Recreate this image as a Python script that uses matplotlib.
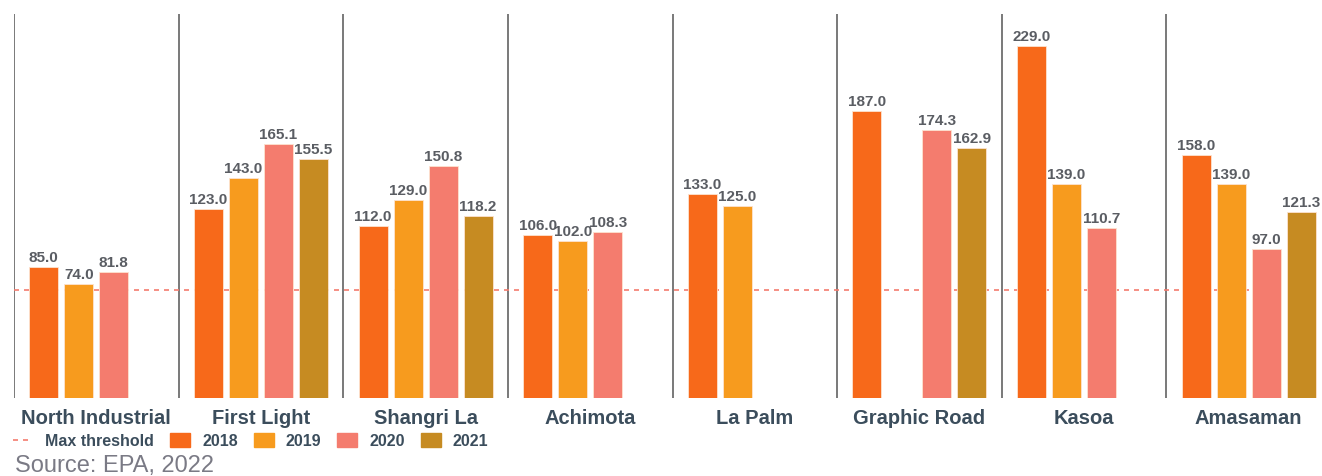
import matplotlib.pyplot as plt
import matplotlib.patches as mpatches
from matplotlib.lines import Line2D
import numpy as np

# PM10 annual averages by site and year
sites = ['North Industrial', 'First Light', 'Shangri La', 'Achimota',
         'La Palm', 'Graphic Road', 'Kasoa', 'Amasaman']
years = ['2018', '2019', '2020', '2021']
v2018 = [85.0, 123.0, 112.0, 106.0, 133.0, 187.0, 229.0, 158.0]
v2019 = [74.0, 143.0, 129.0, 102.0, 125.0, np.nan, 139.0, 139.0]
v2020 = [81.8, 165.1, 150.8, 108.3, np.nan, 174.3, 110.7, 97.0]
v2021 = [np.nan, 155.5, 118.2, np.nan, np.nan, 162.9, np.nan, 121.3]
threshold = 70
source = 'Source: EPA, 2022'

colors = ['#F7691A', '#F79B1E', '#F47C6E', '#C68B22']
text_col = '#3B4D5C'
label_col = '#5A5D63'

plt.rcParams['font.family'] = ['Liberation Sans', 'DejaVu Sans']

W, H = 1322, 476
fig = plt.figure(figsize=(W / 100, H / 100), dpi=100)
ax = fig.add_axes([14 / W, (H - 398) / H, 1317 / W, 384 / H])

x = np.arange(len(sites))
step = 0.2127
width = 0.176
series = [v2018, v2019, v2020, v2021]
for k, vals in enumerate(series):
    pos = x + (k - 1.5) * step
    ax.bar(pos, vals, width, color=colors[k], edgecolor='#FDE3D0', linewidth=0.6,
           zorder=3)
    for p, v in zip(pos, vals):
        if not np.isnan(v):
            ax.annotate(f'{v:.1f}', (p, v), xytext=(0, 1.5), textcoords='offset points',
                        ha='center', va='bottom', fontsize=11, fontweight='bold',
                        color=label_col, zorder=4)

# panel separators
for i in range(len(sites)):
    ax.axvline(i - 0.5, color='#555555', linewidth=1.1)

# threshold line sits behind the bars
ax.hlines(threshold, -0.5, len(sites) - 1, colors='#F47C6E', linestyles=(0, (3, 3)),
          linewidth=1.2, zorder=2)

for i, s in enumerate(sites):
    ax.text(i, -13.5, s, ha='center', va='center', fontsize=14.5, fontweight='bold',
            color=text_col, clip_on=False)

ax.set_xlim(-0.5, len(sites) - 0.5)
ax.set_ylim(0, 250)
ax.axis('off')

handles = [Line2D([0], [0], color='#F47C6E', linestyle=(0, (3, 3)), linewidth=1.2)]
handles += [mpatches.Patch(color=c) for c in colors]
labels = ['Max threshold'] + years
fig.legend(handles, labels, loc='center left', bbox_to_anchor=(7 / W, (H - 441) / H),
           ncol=5, frameon=False, handlelength=1.25, handleheight=1.0,
           handletextpad=0.75, columnspacing=1.0, borderaxespad=0,
           prop={'weight': 'bold', 'size': 11.5}, labelcolor=text_col)

fig.text(15 / W, (H - 466) / H, source, ha='left', va='center', fontsize=17,
         color='#7A7A85')

fig.savefig('out.png', dpi=100)
